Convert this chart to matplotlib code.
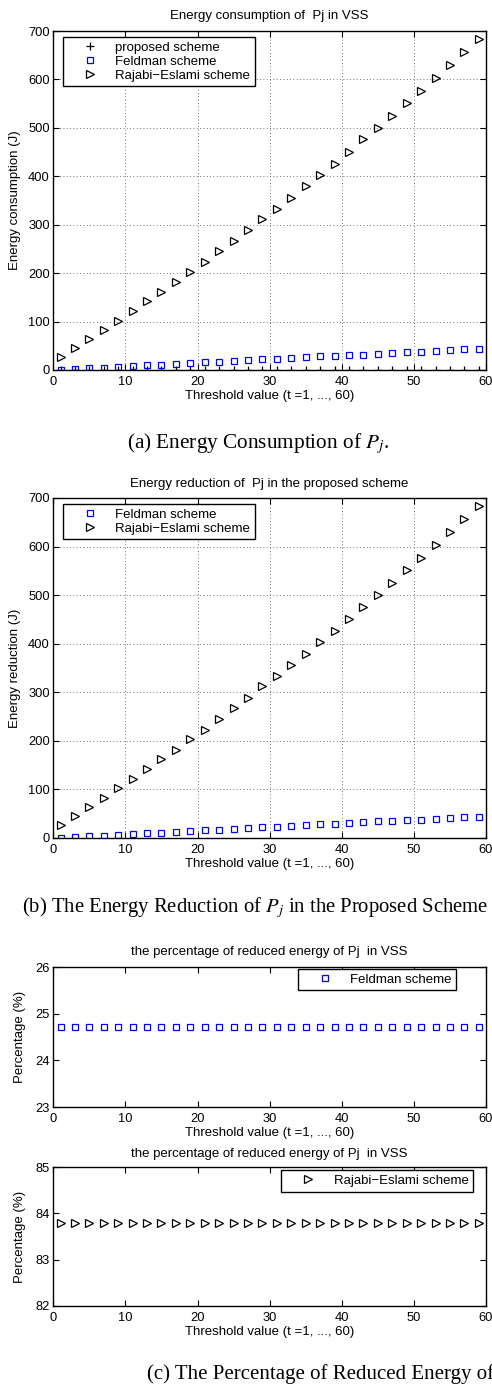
import matplotlib
matplotlib.use("Agg")
import matplotlib.pyplot as plt
from matplotlib.ticker import MultipleLocator

# ---------------- data ----------------
t = [1, 3, 5, 7, 9, 11, 13, 15, 17, 19, 21, 23, 25, 27, 29,
     31, 33, 35, 37, 39, 41, 43, 45, 47, 49, 51, 53, 55, 57, 59]

proposed_energy = [0] * 30
feldman_energy = [1, 2, 4, 5, 7, 8, 10, 11, 13, 14, 16, 17, 19, 20, 22,
                  23, 25, 26, 28, 29, 31, 32, 34, 35, 37, 38, 40, 41, 43, 44]
rajabi_energy = [27, 45, 64, 83, 102, 122, 142, 162, 182, 203, 223, 245, 267, 289, 312,
                 333, 356, 379, 403, 426, 451, 476, 500, 525, 551, 577, 603, 630, 656, 683]

feldman_reduction = [1, 2, 4, 5, 7, 8, 10, 11, 13, 14, 16, 17, 19, 20, 22,
                     23, 25, 26, 28, 29, 31, 32, 34, 35, 37, 38, 40, 41, 43, 44]
rajabi_reduction = [27, 45, 64, 83, 102, 122, 142, 162, 182, 203, 223, 245, 267, 289, 312,
                    333, 356, 379, 403, 426, 451, 476, 500, 525, 551, 577, 603, 630, 656, 683]

feldman_pct = [24.72] * 30
rajabi_pct = [83.8] * 30

lbl_prop = "proposed scheme"
lbl_feld = "Feldman scheme"
lbl_raj = "Rajabi\u2212Eslami scheme"
xlabel = "Threshold value (t =1, ..., 60)"

# ---------------- style ----------------
plt.rcParams['font.family'] = ['Liberation Sans', 'DejaVu Sans']
plt.rcParams['mathtext.fontset'] = 'stix'
plt.rcParams['font.size'] = 9

W, H = 492, 1386
fig = plt.figure(figsize=(W / 100, H / 100), dpi=100)

FS = 9.5


def add_axes(top, bottom, left=53.3, right=486):
    return fig.add_axes([left / W, (H - bottom) / H, (right - left) / W, (bottom - top) / H])


def style(ax, grid):
    ax.tick_params(direction='in', top=True, right=True, length=4, width=0.8,
                   labelsize=9.3, pad=4)
    ax.tick_params(axis='y', pad=2.5)
    for s in ax.spines.values():
        s.set_linewidth(1.0)
    if grid:
        ax.grid(True, linestyle=(0, (1, 3)), color='#444444', linewidth=0.6)
    ax.set_xlim(0, 60)
    ax.xaxis.set_major_locator(MultipleLocator(10))


tri = dict(marker='>', ms=5.5, mfc='none', mec='black', mew=0.9, ls='none')
sq = dict(marker='s', ms=4.8, mfc='none', mec='#0000ff', mew=0.9, ls='none')
plus = dict(marker='+', ms=6, mec='black', mew=0.9, ls='none')

leg_kw = dict(fancybox=False, edgecolor='black', framealpha=1, fontsize=9.5,
              handlelength=3.4, handletextpad=0.2, borderpad=0.35, labelspacing=0.12,
              borderaxespad=0)

# ---- panel (a)
ax1 = add_axes(31, 370)
style(ax1, True)
ax1.plot(t, proposed_energy, label=lbl_prop, **plus)
ax1.plot(t, feldman_energy, label=lbl_feld, **sq)
ax1.plot(t, rajabi_energy, label=lbl_raj, **tri)
ax1.set_ylim(0, 700)
ax1.yaxis.set_major_locator(MultipleLocator(100))
ax1.set_title("Energy consumption of  Pj in VSS", fontsize=FS, pad=8.5)
ax1.set_xlabel(xlabel, fontsize=FS, labelpad=2)
ax1.set_ylabel("Energy consumption (J)", fontsize=FS, labelpad=5)
lg = ax1.legend(loc='upper left', bbox_to_anchor=(0.0224, 0.982), **leg_kw)
lg.get_frame().set_linewidth(1.0)

# ---- panel (b)
ax2 = add_axes(498, 838)
style(ax2, True)
ax2.plot(t, feldman_reduction, label=lbl_feld, **sq)
ax2.plot(t, rajabi_reduction, label=lbl_raj, **tri)
ax2.set_ylim(0, 700)
ax2.yaxis.set_major_locator(MultipleLocator(100))
ax2.set_title("Energy reduction of  Pj in the proposed scheme", fontsize=FS, pad=8)
ax2.set_xlabel(xlabel, fontsize=FS, labelpad=2)
ax2.set_ylabel("Energy reduction (J)", fontsize=FS, labelpad=5)
lg = ax2.legend(loc='upper left', bbox_to_anchor=(0.0224, 0.982), **leg_kw)
lg.get_frame().set_linewidth(1.0)

# ---- panel (c) top
ax3 = add_axes(967, 1107)
style(ax3, False)
ax3.plot(t, feldman_pct, label=lbl_feld, **sq)
ax3.set_ylim(23, 26)
ax3.yaxis.set_major_locator(MultipleLocator(1))
ax3.set_title("the percentage of reduced energy of Pj  in VSS", fontsize=FS, pad=8.5)
ax3.set_xlabel(xlabel, fontsize=FS, labelpad=2)
ax3.set_ylabel("Percentage (%)", fontsize=FS, labelpad=7)
lg = ax3.legend(loc='upper right', bbox_to_anchor=(0.9307, 0.986), **leg_kw)
lg.get_frame().set_linewidth(1.0)

# ---- panel (c) bottom
ax4 = add_axes(1167, 1306)
style(ax4, False)
ax4.plot(t, rajabi_pct, label=lbl_raj, **tri)
ax4.set_ylim(82, 85)
ax4.yaxis.set_major_locator(MultipleLocator(1))
ax4.set_title("the percentage of reduced energy of Pj  in VSS", fontsize=FS, pad=7.5)
ax4.set_xlabel(xlabel, fontsize=FS, labelpad=2)
ax4.set_ylabel("Percentage (%)", fontsize=FS, labelpad=7)
lg = ax4.legend(loc='upper right', bbox_to_anchor=(0.970, 0.978), **leg_kw)
lg.get_frame().set_linewidth(1.0)

# ---- captions (as visible in the reference)
cap_kw = dict(family=['Liberation Serif', 'DejaVu Serif'])
fig.text(258 / W, 1 - 448 / H, r"(a) Energy Consumption of $P_j$.", ha='center',
         va='baseline', fontsize=15.3, **cap_kw)
fig.text(255 / W, 1 - 912 / H, r"(b) The Energy Reduction of $P_j$ in the Proposed Scheme",
         ha='center', va='baseline', fontsize=14.9, **cap_kw)
fig.text(147 / W, 1 - 1379 / H, r"(c) The Percentage of Reduced Energy of",
         ha='left', va='baseline', fontsize=15.0, **cap_kw)

fig.savefig("out.png", dpi=100)
